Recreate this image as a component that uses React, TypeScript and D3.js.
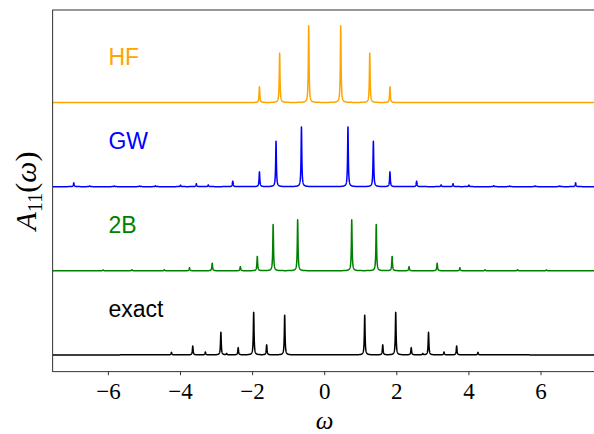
import React, { useMemo } from 'react';
import * as d3 from 'd3';

const W = 594;
const H = 434;

// Plot frame (pixels)
const LEFT = 52.7;
const RIGHT = 596.7;
const TOP = 10;
const BOTTOM = 371.7;

const X_DOMAIN: [number, number] = [-7.545, 7.545];
const Y_DOMAIN: [number, number] = [-0.2, 4.1];

const xTicks = [-6, -4, -2, 0, 2, 4, 6];

// Pole positions (omega) and plotted peak heights for each method
const hfPos = [-1.81, -1.25, -0.444, 0.444, 1.25, 1.81];
const hfAmp = [0.187, 0.587, 0.912, 0.912, 0.587, 0.187];

const gwPos = [
  -6.96, -6.52, -5.84, -5.13, -4.69, -4.0, -3.56, -3.23, -2.55, -1.81, -1.35, -0.645,
  0.645, 1.35, 1.81, 2.55, 3.23, 3.56, 4.0, 4.69, 5.13, 5.84, 6.52, 6.96,
];
const gwAmp = [
  0.045, 0.008, 0.008, 0.008, 0.01, 0.018, 0.035, 0.02, 0.065, 0.175, 0.54, 0.71,
  0.71, 0.54, 0.175, 0.065, 0.02, 0.035, 0.018, 0.01, 0.008, 0.008, 0.008, 0.045,
];

const b2Pos = [
  -6.15, -5.35, -4.45, -3.75, -3.12, -2.34, -1.87, -1.43, -0.75,
  0.75, 1.43, 1.87, 2.34, 3.12, 3.75, 4.45, 5.35, 6.15,
];
const b2Amp = [
  0.01, 0.012, 0.012, 0.036, 0.09, 0.048, 0.17, 0.55, 0.606,
  0.606, 0.55, 0.17, 0.048, 0.09, 0.036, 0.012, 0.012, 0.01,
];

const exactPos = [
  -4.25, -3.66, -3.31, -2.88, -2.72, -2.4, -1.97, -1.61, -1.11,
  1.11, 1.61, 1.97, 2.4, 2.72, 2.88, 3.31, 3.66, 4.25,
];
const exactAmp = [
  0.03, 0.105, 0.034, 0.268, 0.015, 0.085, 0.505, 0.119, 0.472,
  0.472, 0.119, 0.505, 0.085, 0.015, 0.268, 0.034, 0.105, 0.03,
];

const seriesNames = ['HF', 'GW', '2B', 'exact'];
const seriesColors = ['#FFA500', '#0000FF', '#008000', '#000000'];
const seriesOffsets = [3, 2, 1, 0];
const seriesPositions = [hfPos, gwPos, b2Pos, exactPos];
const seriesAmplitudes = [hfAmp, gwAmp, b2Amp, exactAmp];

const ETA = 0.012; // Lorentzian broadening
const LABEL_X = -6;
const LABEL_DY = 0.45;

function spectrum(pos: number[], amp: number[]): [number, number][] {
  const grid: number[] = [];
  for (let w = X_DOMAIN[0]; w <= X_DOMAIN[1]; w += 0.0025) grid.push(w);
  pos.forEach((p) => {
    for (let k = -8; k <= 8; k++) grid.push(p + k * 0.0008);
  });
  grid.sort((a, b) => a - b);
  return grid.map((w) => {
    let s = 0;
    for (let i = 0; i < pos.length; i++) {
      const d = w - pos[i];
      s += (amp[i] * ETA * ETA) / (d * d + ETA * ETA);
    }
    return [w, s];
  });
}

export default function App() {
  const x = d3.scaleLinear().domain(X_DOMAIN).range([LEFT, RIGHT]);
  const y = d3.scaleLinear().domain(Y_DOMAIN).range([BOTTOM, TOP]);

  const paths = useMemo(() => {
    return seriesNames.map((_, i) => {
      const pts = spectrum(seriesPositions[i], seriesAmplitudes[i]);
      const line = d3
        .line<[number, number]>()
        .x((d) => x(d[0]))
        .y((d) => y(d[1] + seriesOffsets[i]));
      return line(pts) || '';
    });
  }, []);

  const serif = '"Liberation Serif", "DejaVu Serif", serif';

  return (
    <svg
      width={W}
      height={H}
      style={{ position: 'absolute', left: 0, top: 0, background: '#fff' }}
    >
      <rect x={0} y={0} width={W} height={H} fill="#fff" />
      <defs>
        <clipPath id="plotArea">
          <rect x={LEFT} y={TOP} width={RIGHT - LEFT} height={BOTTOM - TOP} />
        </clipPath>
      </defs>
      <g clipPath="url(#plotArea)">
        {paths.map((d, i) => (
          <path
            key={seriesNames[i]}
            d={d}
            fill="none"
            stroke={seriesColors[i]}
            strokeWidth={1.5}
            strokeLinejoin="round"
          />
        ))}
      </g>
      {seriesNames.map((name, i) => (
        <text
          key={name}
          x={x(LABEL_X)}
          y={y(seriesOffsets[i] + LABEL_DY)}
          fill={seriesColors[i]}
          fontFamily='"Liberation Sans", Arial, sans-serif'
          fontSize={23}
        >
          {name}
        </text>
      ))}
      <rect
        x={LEFT}
        y={TOP}
        width={RIGHT - LEFT}
        height={BOTTOM - TOP}
        fill="none"
        stroke="#000"
        strokeWidth={0.8}
      />
      {xTicks.map((t) => (
        <g key={t} transform={`translate(${x(t)},${BOTTOM})`}>
          <line y1={0} y2={3.5} stroke="#000" strokeWidth={0.8} />
          <text
            y={27.5}
            textAnchor="middle"
            fontFamily={serif}
            fontSize={23}
            fill="#000"
          >
            {t < 0 ? `\u2212${Math.abs(t)}` : `${t}`}
          </text>
        </g>
      ))}
      <text
        x={x(0)}
        y={428.5}
        textAnchor="middle"
        fontFamily={serif}
        fontStyle="italic"
        fontSize={25}
        fill="#000"
      >
        ω
      </text>
      <text
        transform={`translate(36,191) rotate(-90)`}
        textAnchor="middle"
        fontFamily={serif}
        fontSize={30}
        fill="#000"
      >
        <tspan fontStyle="italic">A</tspan>
        <tspan fontSize={20} dy={6}>11</tspan>
        <tspan dy={-6}>(</tspan>
        <tspan fontStyle="italic">ω</tspan>
        <tspan>)</tspan>
      </text>
    </svg>
  );
}
